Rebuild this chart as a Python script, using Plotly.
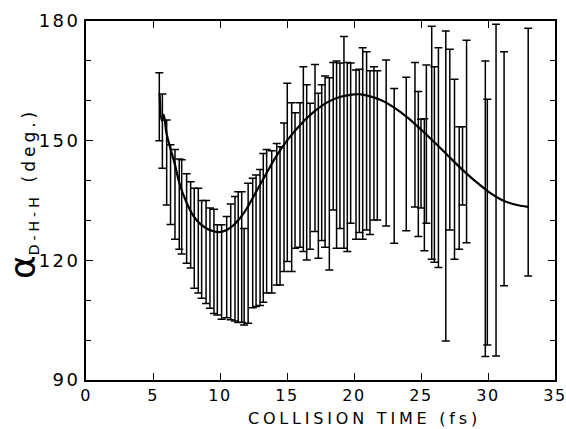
import plotly.graph_objects as go

# Error-bar data: time (fs), upper and lower bounds (deg.)
bar_time = [5.47, 5.70, 6.02, 6.31, 6.64, 6.96, 7.14, 7.51, 7.81, 8.08, 8.38, 8.63, 8.96, 9.25,
            9.55, 9.80, 10.12, 10.50, 10.80, 11.12, 11.36, 11.62, 11.80, 12.10, 12.44, 12.69,
            12.99, 13.23, 13.48, 13.86, 14.23, 14.48, 14.78, 15.02, 15.35, 15.60, 15.97, 16.22,
            16.47, 16.72, 17.09, 17.34, 17.59, 17.84, 18.16, 18.45, 18.70, 18.95, 19.25, 19.50,
            19.75, 20.15, 20.40, 20.65, 20.94, 21.19, 21.49, 21.74, 22.40, 23.00, 23.90, 24.55,
            24.80, 25.00, 25.25, 25.40, 25.80, 26.00, 26.30, 26.85, 27.15, 27.50, 27.85, 28.10,
            28.40, 29.80, 29.95, 30.60, 31.20, 33.00]
bar_upper = [167.0, 161.7, 155.2, 149.0, 147.8, 145.4, 145.2, 141.7, 139.7, 138.1, 138.1, 135.0,
             135.0, 133.1, 132.8, 128.9, 128.9, 131.0, 134.1, 136.0, 137.2, 137.2, 128.0, 139.3,
             140.6, 141.4, 142.8, 146.8, 147.8, 147.5, 149.3, 148.5, 154.4, 164.4, 159.5, 157.0,
             159.5, 168.5, 164.0, 159.4, 169.1, 161.9, 164.0, 166.2, 165.8, 169.6, 170.0, 169.5,
             176.1, 169.6, 169.5, 167.7, 167.9, 173.3, 172.3, 167.5, 168.5, 167.5, 170.2, 163.1,
             165.9, 169.6, 162.3, 155.4, 155.5, 169.0, 178.7, 168.5, 173.3, 177.5, 172.9, 165.4,
             153.5, 153.5, 175.2, 170.0, 160.4, 179.2, 172.3, 178.2]
bar_lower = [150.0, 143.1, 133.9, 129.0, 125.3, 122.8, 121.6, 119.3, 118.1, 113.0, 111.8, 110.5,
             109.2, 108.0, 106.7, 106.3, 105.2, 105.6, 105.1, 104.8, 104.4, 104.5, 103.8, 104.2,
             108.1, 108.4, 108.7, 109.5, 111.8, 111.8, 113.8, 113.8, 117.2, 119.7, 117.2, 123.0,
             123.3, 122.2, 120.1, 122.8, 127.2, 120.5, 125.0, 123.3, 117.6, 132.6, 123.0, 128.0,
             123.0, 122.2, 129.3, 125.3, 127.0, 125.3, 127.6, 126.5, 130.1, 130.1, 128.6, 124.3,
             127.4, 133.4, 126.0, 133.1, 122.4, 129.3, 120.3, 119.5, 118.2, 99.8, 127.6, 120.3,
             122.8, 133.9, 124.4, 95.9, 98.8, 96.0, 113.6, 116.1]

# Smooth fitted curve
curve_time = [5.5, 5.65, 5.8, 6.0, 6.3, 6.6, 7.0, 7.5, 8.0, 8.5, 9.0, 9.5, 10.0, 10.5, 11.0,
              11.5, 12.0, 12.5, 13.0, 13.5, 14.0, 15.0, 16.0, 17.0, 18.0, 19.0, 20.0, 20.5,
              21.0, 22.0, 23.0, 24.0, 25.0, 26.0, 27.0, 28.0, 29.0, 30.0, 31.0, 32.0, 33.0]
curve_angle = [161.5, 155.0, 156.5, 152.0, 148.0, 144.5, 139.0, 134.5, 131.2, 129.2, 128.0,
               127.3, 127.1, 127.6, 128.8, 130.6, 133.0, 136.0, 139.0, 142.0, 145.0, 150.0,
               154.0, 157.2, 159.6, 161.0, 161.6, 161.6, 161.3, 160.2, 158.3, 155.8, 152.8,
               149.6, 146.3, 143.0, 140.0, 137.3, 135.2, 134.0, 133.4]

x_ticks = [0, 5, 10, 15, 20, 25, 30, 35]
y_ticks = [90, 120, 150, 180]
y_minor = [90, 100, 110, 120, 130, 140, 150, 160, 170, 180]

mid = [(u + l) / 2 for u, l in zip(bar_upper, bar_lower)]
half = [(u - l) / 2 for u, l in zip(bar_upper, bar_lower)]

font = "DejaVu Sans, Verdana, sans-serif"


def spaced(t, sp, size=None):
    style = "letter-spacing:%spx" % sp
    if size:
        style += ";font-size:%spx" % size
    return "<span style='%s'>%s</span>" % (style, t)


fig = go.Figure()
fig.add_trace(go.Scatter(
    x=bar_time, y=mid, mode="markers",
    marker=dict(size=1, color="rgba(0,0,0,0)"),
    error_y=dict(type="data", array=half, symmetric=True, color="black",
                 thickness=1.5, width=4),
    showlegend=False, hoverinfo="skip"))
fig.add_trace(go.Scatter(
    x=curve_time, y=curve_angle, mode="lines",
    line=dict(color="black", width=2.2, shape="spline"),
    showlegend=False))

fig.update_layout(
    width=566, height=429,
    margin=dict(l=86, r=11, t=21, b=49, autoexpand=False),
    paper_bgcolor="white", plot_bgcolor="white",
    font=dict(family=font, color="black", size=16),
    showlegend=False,
    xaxis=dict(range=[0, 35], tickmode="array", tickvals=x_ticks,
               ticktext=[spaced(v, 1.5) for v in x_ticks],
               ticks="inside", ticklen=7, tickwidth=1.4, tickcolor="black",
               showline=True, linecolor="black", linewidth=1.8, mirror="ticks",
               showgrid=False, zeroline=False, automargin=False,
               ticklabeloverflow="allow",
               tickfont=dict(size=16, family=font)),
    yaxis=dict(range=[90, 180], tickmode="array", tickvals=y_ticks,
               ticktext=[spaced(v, 2.5) for v in y_ticks],
               ticks="inside", ticklen=7, tickwidth=1.4, tickcolor="black",
               minor=dict(tickmode="array", tickvals=y_minor, ticks="inside", ticklen=5,
                          tickwidth=1.2, tickcolor="black"),
               showline=True, linecolor="black", linewidth=1.8, mirror="ticks",
               showgrid=False, zeroline=False, automargin=False,
               ticklabeloverflow="allow",
               tickfont=dict(size=18, family=font)),
    annotations=[
        dict(text=spaced("COLLISION TIME (fs)", 3.8), xref="paper", yref="paper",
             x=0.593, y=-0.1086, xanchor="center", yanchor="middle", showarrow=False,
             font=dict(size=16, family=font)),
        dict(text="<span style='font-size:36px'>α</span>"
                  "<sub>" + spaced("D-H-H", 4, 14) + "</sub>" + "  "
                  + spaced("(deg.)", 4, 17),
             xref="paper", yref="paper", x=-0.135, y=0.52, xanchor="center",
             yanchor="middle", textangle=-90, showarrow=False,
             font=dict(size=17, family=font)),
    ],
)

fig.write_html("out.html")
